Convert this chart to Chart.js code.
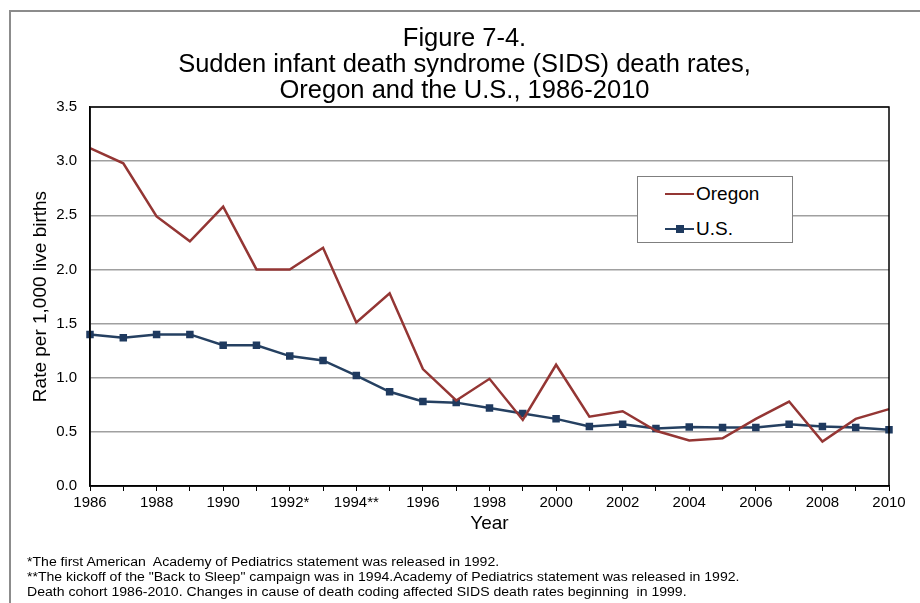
<!DOCTYPE html>
<html>
<head>
<meta charset="utf-8">
<script src="https://cdn.jsdelivr.net/npm/chart.js@4"></script>
<style>
  html, body { margin: 0; padding: 0; background: #fff; overflow: hidden; }
  #wrap { position: relative; width: 920px; height: 603px; overflow: hidden; font-family: "Liberation Sans", Arial, sans-serif; }
  #frame { position: absolute; left: 9px; top: 10px; width: 960px; height: 640px; border: 2px solid #8c8c8c; box-sizing: border-box; }
  #chart { position: absolute; left: 0; top: 0; }
  #legend { position: absolute; left: 637px; top: 176px; width: 156px; height: 67px; box-sizing: border-box; border: 1px solid #7f7f7f; background: #fff; }
  .lg-row { position: absolute; left: 27px; height: 22px; font-size: 19px; line-height: 22px; color: #000; }
  .lg-line { position: absolute; left: 0; top: 10px; width: 29px; height: 2px; }
  .lg-mark { position: absolute; left: 11px; top: 7px; width: 8px; height: 8px; }
  .lg-text { position: absolute; left: 31px; top: 0; white-space: nowrap; }
  #notes { position: absolute; left: 27px; top: 555px; font-size: 12.5px; line-height: 15px; color: #000; white-space: pre; transform: scaleX(1.125); transform-origin: 0 0; }
</style>
</head>
<body>
<div id="wrap">
  <div id="frame"></div>
  <canvas id="chart" width="920" height="603"></canvas>
  <div id="legend"></div>
  <div id="notes"></div>
</div>
<script>
'use strict';

// datos
const years = ['1986', '1987', '1988', '1989', '1990', '1991', '1992', '1993',
  '1994', '1995', '1996', '1997', '1998', '1999', '2000', '2001', '2002',
  '2003', '2004', '2005', '2006', '2007', '2008', '2009', '2010'];

const tickLabels = ['1986', '', '1988', '', '1990', '', '1992*', '', '1994**', '',
  '1996', '', '1998', '', '2000', '', '2002', '', '2004', '', '2006', '',
  '2008', '', '2010'];

const oregonRates = [3.12, 2.98, 2.49, 2.26, 2.58, 2.00, 2.00, 2.20, 1.51, 1.78,
  1.08, 0.79, 0.99, 0.61, 1.12, 0.64, 0.69, 0.51, 0.42, 0.44, 0.62, 0.78,
  0.41, 0.62, 0.71];

const usRates = [1.40, 1.37, 1.40, 1.40, 1.30, 1.30, 1.20, 1.16, 1.02, 0.87,
  0.78, 0.77, 0.72, 0.67, 0.62, 0.55, 0.57, 0.53, 0.545, 0.54, 0.54, 0.57,
  0.55, 0.54, 0.52];

const titleLines = [
  'Figure 7-4.',
  'Sudden infant death syndrome (SIDS) death rates,',
  'Oregon and the U.S., 1986-2010'
];

const footnotes = [
  '*The first American  Academy of Pediatrics statement was released in 1992.',
  '**The kickoff of the "Back to Sleep" campaign was in 1994.Academy of Pediatrics statement was released in 1992.',
  'Death cohort 1986-2010. Changes in cause of death coding affected SIDS death rates beginning  in 1999.'
];

const FONT = '"Liberation Sans", Arial, sans-serif';

// borde negro alrededor del área del gráfico
const plotBorder = {
  id: 'plotBorder',
  afterDatasetsDraw(chart) {
    const a = chart.chartArea;
    const ctx = chart.ctx;
    ctx.save();
    ctx.strokeStyle = '#000';
    ctx.lineWidth = 1.5;
    ctx.strokeRect(a.left, a.top, a.right - a.left, a.bottom - a.top);
    ctx.restore();
  }
};

const chart = new Chart(document.getElementById('chart').getContext('2d'), {
  type: 'line',
  data: {
    labels: years,
    datasets: [
      {
        label: 'Oregon',
        data: oregonRates,
        borderColor: '#943634',
        backgroundColor: '#943634',
        borderWidth: 2.5,
        pointRadius: 0,
        tension: 0,
        fill: false
      },
      {
        label: 'U.S.',
        data: usRates,
        borderColor: '#254061',
        backgroundColor: '#1f3a5f',
        borderWidth: 2.5,
        pointStyle: 'rect',
        pointRadius: 5.3,
        pointBorderWidth: 0,
        tension: 0,
        fill: false
      }
    ]
  },
  options: {
    responsive: false,
    animation: false,
    layout: { padding: { left: 40, right: 31, top: 0, bottom: 63 } },
    plugins: {
      legend: { display: false },
      tooltip: { enabled: false },
      title: {
        display: true,
        text: titleLines,
        color: '#000',
        font: { family: FONT, size: 25.5, weight: 'normal', lineHeight: 1.02 },
        padding: { top: 26, bottom: 3 }
      }
    },
    scales: {
      x: {
        offset: false,
        grid: { drawOnChartArea: false, drawTicks: true, tickLength: 5, color: '#000', lineWidth: 1 },
        border: { color: '#000', width: 1.5 },
        ticks: {
          autoSkip: false,
          maxRotation: 0,
          padding: 3,
          color: '#000',
          font: { family: FONT, size: 15 },
          callback: function (v, i) { return tickLabels[i]; }
        },
        title: {
          display: true,
          text: 'Year',
          color: '#000',
          font: { family: FONT, size: 19 },
          padding: { top: 0, bottom: 4.6 }
        },
        afterFit: function (scale) { scale.height = 54; }
      },
      y: {
        min: 0,
        max: 3.5,
        grid: { drawTicks: false, color: '#a0a0a0', lineWidth: 1.5 },
        border: { color: '#000', width: 1.5 },
        ticks: {
          stepSize: 0.5,
          padding: 13,
          color: '#000',
          font: { family: FONT, size: 15 },
          callback: function (v) { return Number(v).toFixed(1); }
        },
        title: {
          display: true,
          text: 'Rate per 1,000 live births',
          color: '#000',
          font: { family: FONT, size: 19 },
          padding: { top: -11, bottom: 0 }
        },
        afterFit: function (scale) { scale.width = 50; }
      }
    }
  },
  plugins: [plotBorder]
});

// leyenda dentro del área del gráfico
const legend = document.getElementById('legend');
chart.data.datasets.forEach(function (ds, i) {
  const row = document.createElement('div');
  row.className = 'lg-row';
  row.style.top = (6 + i * 35) + 'px';
  const line = document.createElement('div');
  line.className = 'lg-line';
  line.style.background = ds.borderColor;
  row.appendChild(line);
  if (ds.pointRadius) {
    const mark = document.createElement('div');
    mark.className = 'lg-mark';
    mark.style.background = ds.backgroundColor;
    row.appendChild(mark);
  }
  const txt = document.createElement('div');
  txt.className = 'lg-text';
  txt.textContent = ds.label;
  row.appendChild(txt);
  legend.appendChild(row);
});

document.getElementById('notes').textContent = footnotes.join('\n');
</script>
</body>
</html>
